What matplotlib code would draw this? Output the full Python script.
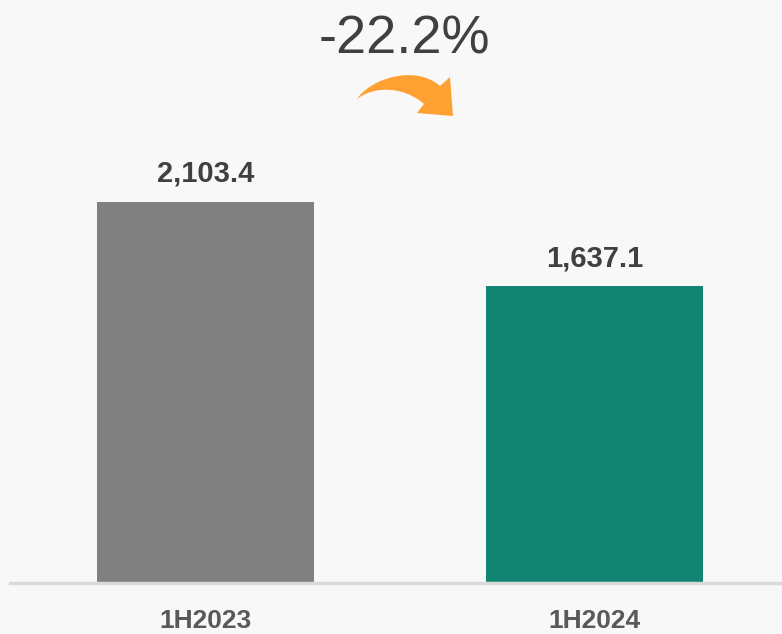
import matplotlib
matplotlib.use("Agg")
import matplotlib.pyplot as plt
from matplotlib.patches import PathPatch
from matplotlib.path import Path

categories = ["1H2023", "1H2024"]
values = [2103.4, 1637.1]
value_labels = ["2,103.4", "1,637.1"]
change_label = "-22.2%"
colors = ["#808080", "#118571"]

W, H = 782, 634
fig = plt.figure(figsize=(W / 100, H / 100), dpi=100, facecolor="#f8f8f8")
ax = fig.add_axes([10 / W, 51 / H, 772 / W, 583 / H])
ax.set_facecolor("#f8f8f8")

x = list(range(len(categories)))
ax.bar(x, values, width=0.558, color=colors, zorder=2)
ax.set_xlim(-0.5026, 1.482)
ax.set_ylim(0, 3218.5)

for xi, v, lab in zip(x, values, value_labels):
    ax.annotate(lab, (xi, v), xytext=(0, 14.4), textcoords="offset points",
                ha="center", va="baseline", fontsize=21, fontweight="bold",
                color="#404040", family=["Liberation Sans", "DejaVu Sans"])

for s in ["top", "right", "left"]:
    ax.spines[s].set_visible(False)
ax.spines["bottom"].set_color("#d9d9d9")
ax.spines["bottom"].set_linewidth(2.5)
ax.set_yticks([])
ax.set_xticks(x)
ax.set_xticklabels(categories, fontsize=19, fontweight="bold", color="#595959",
                   family=["Liberation Sans", "DejaVu Sans"])
ax.tick_params(axis="x", length=0, pad=19)

fig.text(404 / W, 1 - 53 / H, change_label, ha="center", va="baseline",
         fontsize=39, color="#404040", family=["Liberation Sans", "DejaVu Sans"])

# curved decorative arrow (pixel coords from top-left)
def P(px, py):
    return (px / W, 1 - py / H)

verts = [P(357, 99), P(370, 79), P(415, 64), P(440, 86),
         P(450, 77), P(453, 116), P(417, 113), P(424, 104),
         P(405, 87), P(375, 85), P(357, 99), P(357, 99)]
codes = [Path.MOVETO, Path.CURVE4, Path.CURVE4, Path.CURVE4,
         Path.LINETO, Path.LINETO, Path.LINETO, Path.LINETO,
         Path.CURVE4, Path.CURVE4, Path.CURVE4, Path.CLOSEPOLY]
arrow = PathPatch(Path(verts, codes), transform=fig.transFigure,
                  facecolor="#ffa032", edgecolor="none")
fig.patches.append(arrow)

fig.savefig("out.png", dpi=100, facecolor=fig.get_facecolor())
